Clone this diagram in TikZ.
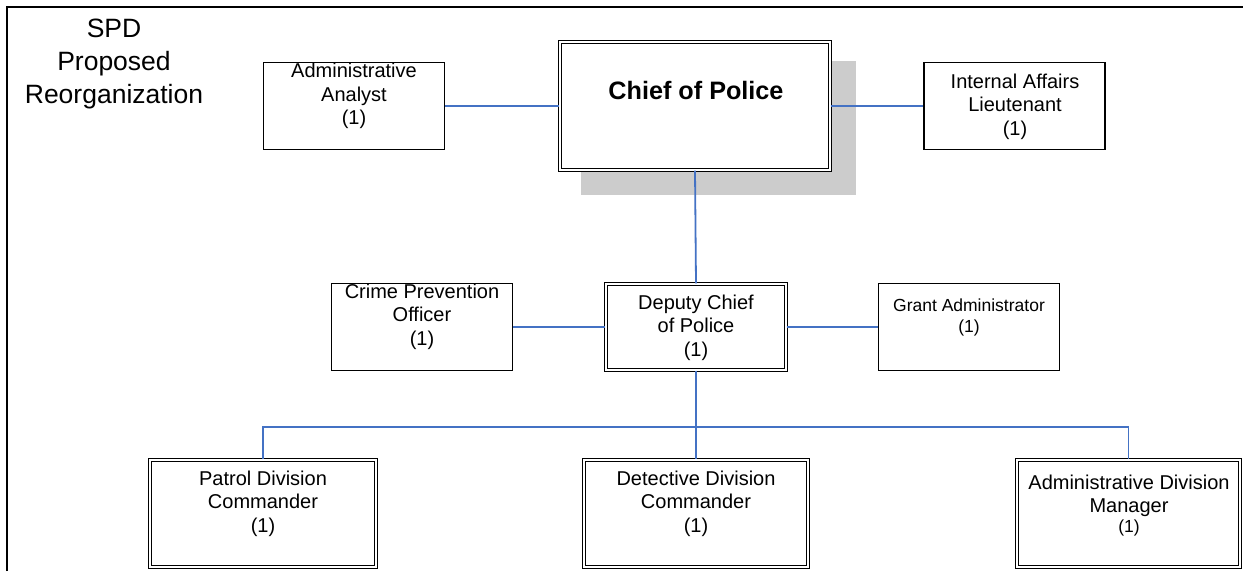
\documentclass[tikz,border=0pt]{standalone}
\usepackage{fontspec}
\setmainfont{Liberation Sans}
\definecolor{linkblue}{RGB}{68,114,196}
\definecolor{shadowgray}{RGB}{204,204,204}

\begin{document}
\begin{tikzpicture}[x=1pt,y=-1pt,
  plainbox/.style={draw=black, line width=1.6pt, fill=white, inner sep=0pt,
    minimum width=181pt, minimum height=87pt},
  dblbox/.style={draw=black, line width=1.2pt, double=white, double distance=1.8pt,
    fill=white, inner sep=0pt},
  label20/.style={align=center, inner sep=0pt, font=\fontsize{20}{23.5}\selectfont},
  label17/.style={align=center, inner sep=0pt, font=\fontsize{17.5}{21}\selectfont},
  link/.style={draw=linkblue, line width=1.8pt}
]
\useasboundingbox (0,0) rectangle (1243,571);

% page frame
\draw[line width=2.4pt] (7,571) -- (7,7) -- (1243,7);

% title
\node[align=center, inner sep=0pt, font=\fontsize{26.5}{33}\selectfont] (title) at (114,64)
  {SPD\\Proposed\\Reorganization};

% drop shadow behind the chief's box
\fill[shadowgray] (581,61) rectangle (856,195);

% boxes
\node[dblbox, minimum width=270pt, minimum height=128pt] (chief) at (695,106) {};
\node[plainbox] (aa) at (354,106) {};
\node[plainbox] (ia) at (1014.5,106) {};
\node[dblbox, minimum width=180pt, minimum height=86pt] (dc) at (696,327) {};
\node[plainbox] (cp) at (422,327) {};
\node[plainbox] (ga) at (969,327) {};
\node[dblbox, minimum width=226pt, minimum height=107pt] (pd) at (263,513.5) {};
\node[dblbox, minimum width=224pt, minimum height=107pt] (dd) at (696,513.5) {};
\node[dblbox, minimum width=223pt, minimum height=107pt] (am) at (1128.5,513.5) {};

% box texts
\node[inner sep=0pt, font=\fontsize{25.2}{30}\selectfont\bfseries] (chief-t) at (696,90.5) {Chief of Police};
\node[label20] (aa-t) at (354,96) {Administrative\\Analyst\\(1)};
\node[label20] (ia-t) at (1015,106.5) {Internal Affairs\\Lieutenant\\(1)};
\node[label20] (dc-t) at (696,327.5) {Deputy Chief\\of Police\\(1)};
\node[label20] (cp-t) at (422,316.5) {Crime Prevention\\Officer\\(1)};
\node[label17] (ga-t) at (969,317.5) {Grant Administrator\\(1)};
\node[label20] (pd-t) at (263,503.5) {Patrol Division\\Commander\\(1)};
\node[label20] (dd-t) at (696,503.5) {Detective Division\\Commander\\(1)};
\node[label20] (am-t) at (1129,496) {Administrative Division\\Manager};
\node[label17] (am-n) at (1129,528) {(1)};

% connectors
\coordinate (bus) at (696,427);
\draw[link] (aa.east) -- (chief.west);
\draw[link] (chief.east) -- (ia.west);
\draw[link] (chief.south) -- (dc.north);
\draw[link] (cp.east) -- (dc.west);
\draw[link] (dc.east) -- (ga.west);
\draw[link] (dc.south) -- (bus);
\draw[link] (pd.north) |- (bus) -| (am.north);
\draw[link] (bus) -- (dd.north);
\end{tikzpicture}
\end{document}
